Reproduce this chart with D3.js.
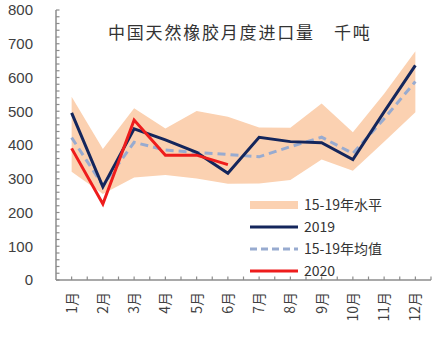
<!DOCTYPE html>
<html><head><meta charset="utf-8">
<script src="https://cdn.jsdelivr.net/npm/d3@7"></script>
<style>html,body{margin:0;padding:0;background:#fff;}svg{display:block;}</style>
</head><body><svg id="c" width="442" height="339"></svg>
<script>
const months = ["1月","2月","3月","4月","5月","6月","7月","8月","9月","10月","11月","12月"];
const bandUpper = [543,388,509,449,501,484,452,451,523,438,552,678];
const bandLower = [321,255,304,311,301,285,286,296,357,324,410,497];
const v2019 = [495,276,448,415,378,316,423,410,407,357,498,636];
const avg1519 = [422,280,408,385,378,372,365,395,423,375,478,588];
const v2020 = [390,225,474,370,370,342];
const yTicks = [0,100,200,300,400,500,600,700,800];
const legendLabels = ["15-19年水平","2019","15-19年均值","2020"];
const title = "中国天然橡胶月度进口量";
const unit = "千吨";

const svg = d3.select("#c");
const x0 = 56, x1 = 431, yTop = 10, yBot = 280;
const x = d3.scaleBand().domain(months).range([x0, x1]).padding(0);
const cx = m => x(m) + x.bandwidth()/2;
const y = d3.scaleLinear().domain([0,800]).range([yBot, yTop]);

// band
const area = d3.area().x((d,i)=>cx(months[i])).y0((d,i)=>y(bandLower[i])).y1(d=>y(d));
svg.append("path").datum(bandUpper).attr("d", area).attr("fill","#fbd1b1");

const line = d3.line().x((d,i)=>cx(months[i])).y(d=>y(d));
svg.append("path").datum(avg1519).attr("d", line).attr("fill","none")
  .attr("stroke","#98abd0").attr("stroke-width",3).attr("stroke-dasharray","8,5");
svg.append("path").datum(v2019).attr("d", line).attr("fill","none")
  .attr("stroke","#14265c").attr("stroke-width",3);
svg.append("path").datum(v2020).attr("d", line).attr("fill","none")
  .attr("stroke","#ee1c1c").attr("stroke-width",3);

// axes
const axisColor = "#8c8c8c";
svg.append("line").attr("x1",x0).attr("x2",x0).attr("y1",yTop).attr("y2",yBot)
  .attr("stroke",axisColor).attr("stroke-width",1.5);
svg.append("line").attr("x1",x0).attr("x2",x1).attr("y1",yBot).attr("y2",yBot)
  .attr("stroke",axisColor).attr("stroke-width",1.5);
// y minor ticks every 20
d3.range(0,801,20).forEach(v=>{
  svg.append("line").attr("x1",x0).attr("x2",x0+3.5).attr("y1",y(v)).attr("y2",y(v))
    .attr("stroke",axisColor).attr("stroke-width",1.2);
});
// x ticks at half bands
d3.range(1,24).forEach(k=>{
  const px = x0 + k*x.bandwidth()/2;
  svg.append("line").attr("x1",px).attr("x2",px).attr("y1",yBot).attr("y2",yBot-3.5)
    .attr("stroke",axisColor).attr("stroke-width",1.2);
});
svg.append("line").attr("x1",x1).attr("x2",x1).attr("y1",yBot).attr("y2",yBot-3.5)
    .attr("stroke",axisColor).attr("stroke-width",1.2);

svg.selectAll(".yl").data(yTicks).enter().append("text")
  .attr("x",33).attr("y",d=>y(d)).attr("dy","0.36em").attr("text-anchor","end")
  .attr("font-family","Liberation Sans, Arial, sans-serif").attr("font-size",15)
  .attr("fill","#404040").text(d=>d);

svg.selectAll(".xl").data(months).enter().append("text")
  .attr("transform",d=>`translate(${cx(d)+5},${yBot+12}) rotate(-90)`)
  .attr("text-anchor","end")
  .attr("font-family","Noto Sans CJK SC, sans-serif").attr("font-size",14)
  .attr("fill","#404040").text(d=>d);

// title
svg.append("text").attr("x",108).attr("y",39)
  .attr("font-family","Noto Sans CJK SC, sans-serif").attr("font-size",17)
  .attr("letter-spacing","1.8px").attr("fill","#333").text(title);
svg.append("text").attr("x",334).attr("y",39)
  .attr("font-family","Noto Sans CJK SC, sans-serif").attr("font-size",17)
  .attr("letter-spacing","1.8px").attr("fill","#333").text(unit);

// legend
const lx = 250, lw = 48, ly = [205,227,249,271];
svg.append("rect").attr("x",lx).attr("y",ly[0]-4).attr("width",lw).attr("height",8).attr("fill","#fbd1b1");
svg.append("line").attr("x1",lx).attr("x2",lx+lw).attr("y1",ly[1]).attr("y2",ly[1]).attr("stroke","#14265c").attr("stroke-width",3);
svg.append("line").attr("x1",lx).attr("x2",lx+lw).attr("y1",ly[2]).attr("y2",ly[2]).attr("stroke","#98abd0").attr("stroke-width",3).attr("stroke-dasharray","7,4");
svg.append("line").attr("x1",lx).attr("x2",lx+lw).attr("y1",ly[3]).attr("y2",ly[3]).attr("stroke","#ee1c1c").attr("stroke-width",3);
svg.selectAll(".lg").data(legendLabels).enter().append("text")
  .attr("x",lx+lw+6).attr("y",(d,i)=>ly[i]).attr("dy","0.36em")
  .attr("font-family","Noto Sans CJK SC, sans-serif").attr("font-size",14)
  .attr("fill","#333").text(d=>d);
</script></body></html>
